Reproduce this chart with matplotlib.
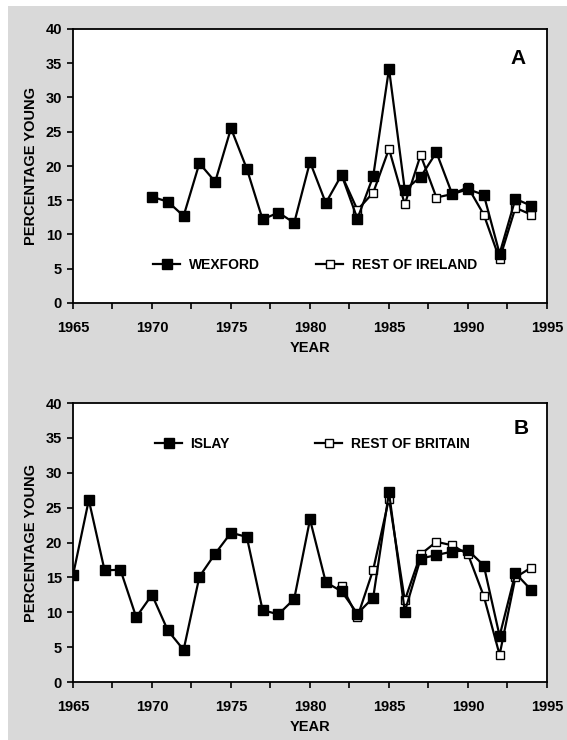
#!/bin/python

import matplotlib
matplotlib.use("Agg")
import matplotlib.pyplot as plt
from matplotlib.patches import Rectangle
from matplotlib.ticker import MultipleLocator

plt.rcParams['font.family'] = ['Liberation Sans', 'DejaVu Sans']
plt.rcParams['font.weight'] = 'bold'

# Panel A: Wexford vs rest of Ireland
wexford_years = list(range(1970, 1995))
wexford = [15.5, 14.8, 12.7, 20.4, 17.7, 25.5, 19.6, 12.2, 13.2, 11.7,
           20.6, 14.6, 18.7, 12.3, 18.5, 34.2, 16.5, 18.4, 22.0, 15.9,
           16.6, 15.8, 7.2, 15.2, 14.2]
ireland_years = list(range(1982, 1995))
ireland = [18.7, 13.6, 16.1, 22.5, 14.4, 21.6, 15.4, 15.9, 16.9, 12.9,
           6.4, 13.9, 12.9]

# Panel B: Islay vs rest of Britain
islay_years = list(range(1965, 1995))
islay = [15.3, 26.1, 16.0, 16.1, 9.3, 12.5, 7.4, 4.6, 15.1, 18.4,
         21.4, 20.8, 10.3, 9.7, 11.9, 23.3, 14.3, 13.0, 9.8, 12.1,
         27.2, 10.1, 17.7, 18.2, 18.7, 18.9, 16.7, 6.6, 15.6, 13.2]
britain_years = list(range(1982, 1995))
britain = [13.8, 9.3, 16.1, 26.3, 11.7, 18.3, 20.1, 19.6, 18.3, 12.3,
           3.9, 15.0, 16.4]

BG = '#d9d9d9'


def style_axes(ax):
    ax.set_xlim(1965, 1995)
    ax.set_ylim(0, 40)
    ax.xaxis.set_major_locator(MultipleLocator(5))
    ax.xaxis.set_minor_locator(MultipleLocator(2.5))
    ax.yaxis.set_major_locator(MultipleLocator(5))
    ax.tick_params(axis='x', which='both', direction='out', length=4,
                   width=1.2, pad=9, labelsize=10.5)
    ax.tick_params(axis='y', which='major', direction='out', length=4,
                   width=1.2, pad=4, labelsize=10.5)
    for lab in ax.get_xticklabels() + ax.get_yticklabels():
        lab.set_fontweight('bold')
    for sp in ax.spines.values():
        sp.set_linewidth(1.3)
    ax.set_xlabel("YEAR", fontsize=10.5, fontweight='bold', labelpad=4)
    ax.set_ylabel("PERCENTAGE YOUNG", fontsize=10.5, fontweight='bold',
                  labelpad=5)
    ax.set_facecolor('white')


def plot_panel(ax, yrs1, vals1, name1, yrs2, vals2, name2, tag,
               leg_y, leg_x1, leg_x2, tag_xy):
    l2, = ax.plot(yrs2, vals2, c='k', lw=1.6, marker='s', ms=6,
                  mfc='white', mec='k', mew=1.0, zorder=3)
    l1, = ax.plot(yrs1, vals1, c='k', lw=1.6, marker='s', ms=6.5,
                  mfc='k', mec='k', zorder=4)
    style_axes(ax)
    kw = dict(frameon=False, borderpad=0, borderaxespad=0,
              handlelength=1.95, handletextpad=0.6, loc='center left',
              prop={'weight': 'bold', 'size': 10})
    leg1 = ax.legend([l1], [name1], bbox_to_anchor=(leg_x1, leg_y), **kw)
    ax.add_artist(leg1)
    ax.legend([l2], [name2], bbox_to_anchor=(leg_x2, leg_y), **kw)
    ax.text(tag_xy[0], tag_xy[1], tag, transform=ax.transAxes,
            fontsize=15, fontweight='bold', ha='center', va='center')


def plot_figure():
    fig = plt.figure(figsize=(5.67, 7.40), dpi=100)
    fig.patch.set_facecolor('white')
    fig.add_artist(Rectangle((8 / 567, 0), 1, 1 - 6 / 740,
                             transform=fig.transFigure, facecolor=BG,
                             edgecolor='none', zorder=-10))

    ax_a = fig.add_axes([73 / 567, 1 - 303 / 740, 474 / 567, 274 / 740])
    ax_b = fig.add_axes([73 / 567, 1 - 682 / 740, 474 / 567, 279 / 740])

    plot_panel(ax_a, wexford_years, wexford, "WEXFORD",
               ireland_years, ireland, "REST OF IRELAND", "A",
               0.139, 0.169, 0.513, (0.939, 0.894))
    plot_panel(ax_b, islay_years, islay, "ISLAY",
               britain_years, britain, "REST OF BRITAIN", "B",
               0.853, 0.173, 0.511, (0.945, 0.907))

    fig.savefig("out.png", dpi=100, facecolor=fig.get_facecolor())


if __name__ == "__main__":
    plot_figure()
